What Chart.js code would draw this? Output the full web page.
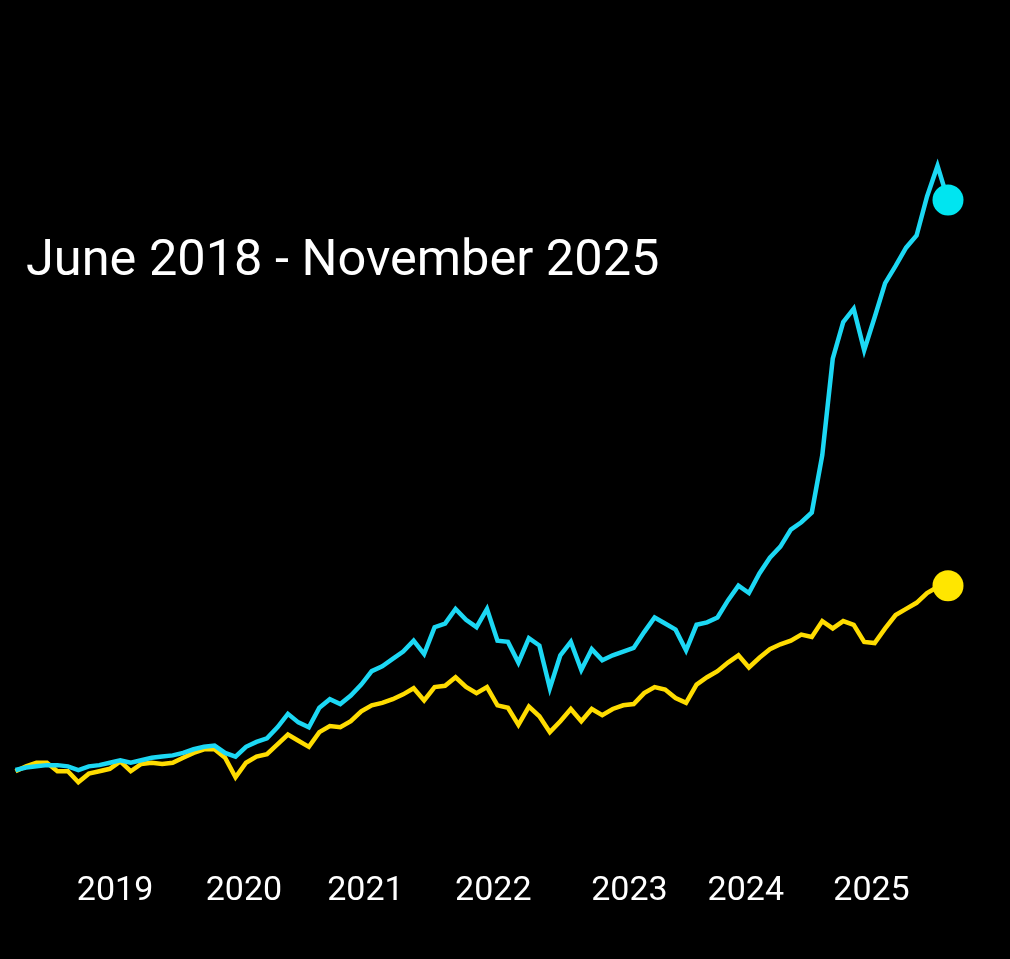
<!DOCTYPE html>
<html>
<head>
<meta charset="utf-8">
<script src="https://cdn.jsdelivr.net/npm/chart.js@4.4.1/dist/chart.umd.min.js"></script>
<style>
  html, body { margin: 0; padding: 0; background: #000; }
  #chart { display: block; }
</style>
</head>
<body>
<canvas id="chart" width="1010" height="959"></canvas>
<script>
// monthly, June 2018 .. November 2025, cumulative return in %
const months = [];
for (let i = 0; i < 90; i++) months.push(i);

const cyanReturn = [
  -1, 1, 2, 3, 3, 2, -1, 2, 3, 5,
  7, 5, 7, 9, 10, 11, 13, 16, 18, 19,
  13, 10, 18, 22, 25, 34, 45, 38, 34, 50,
  57, 53, 60, 69, 80, 84, 90, 96, 105, 94,
  116, 119, 131, 122, 116, 131, 105, 104, 87, 107,
  101, 66, 93, 104, 81, 98, 89, 93, 96, 99,
  112, 124, 119, 114, 97, 118, 120, 124, 138, 150,
  144, 160, 173, 182, 196, 202, 210, 257, 336, 366,
  377, 343, 370, 398, 412, 427, 437, 469, 494, 466
];

const yellowReturn = [
  -2, 2, 5, 5, -2, -2, -11, -4, -2, 0,
  6, -2, 4, 5, 4, 5, 9, 13, 16, 16,
  9, -7, 5, 10, 12, 20, 28, 23, 18, 30,
  35, 34, 39, 47, 52, 54, 57, 61, 66, 56,
  67, 68, 75, 67, 62, 67, 52, 50, 36, 51,
  43, 30, 39, 49, 39, 49, 44, 49, 52, 53,
  62, 67, 65, 58, 54, 69, 75, 80, 87, 93,
  83, 91, 98, 102, 105, 110, 108, 121, 115, 121,
  118, 104, 103, 115, 126, 131, 136, 144, 149, 150
];

const yearLabels = ['2019', '2020', '2021', '2022', '2023', '2024', '2025'];
const yearTickAt = [9.5, 21.8, 33.4, 45.6, 58.6, 69.7, 81.7];

const periodText = 'June 2018 - November 2025';

const lastDot = (ctx) => ctx.dataIndex === months.length - 1 ? 15.5 : 0;

const periodLabel = {
  id: 'periodLabel',
  afterDraw(chart) {
    const c = chart.ctx;
    c.save();
    c.fillStyle = '#ffffff';
    c.font = '50.5px Roboto';
    c.textBaseline = 'alphabetic';
    c.fillText(periodText, 26, 275);
    c.restore();
  }
};

new Chart(document.getElementById('chart'), {
  type: 'line',
  data: {
    labels: months,
    datasets: [
      {
        data: cyanReturn.map((v, i) => ({ x: months[i], y: v })),
        borderColor: '#1cd8f4',
        backgroundColor: '#00e5f0',
        borderWidth: 4.5,
        pointRadius: lastDot,
        pointBorderWidth: 0,
        tension: 0,
        clip: false,
        order: 0
      },
      {
        data: yellowReturn.map((v, i) => ({ x: months[i], y: v })),
        borderColor: '#ffdc00',
        backgroundColor: '#ffe600',
        borderWidth: 4.5,
        pointRadius: lastDot,
        pointBorderWidth: 0,
        tension: 0,
        clip: false,
        order: 1
      }
    ]
  },
  options: {
    responsive: false,
    animation: false,
    layout: { padding: { left: 12, right: 62, top: 100, bottom: 41 } },
    plugins: {
      legend: { display: false },
      tooltip: { enabled: false }
    },
    scales: {
      x: {
        type: 'linear',
        min: 0,
        max: 89,
        grid: { display: false, drawTicks: false },
        border: { display: false },
        afterBuildTicks: (scale) => {
          scale.ticks = yearTickAt.map(v => ({ value: v }));
        },
        ticks: {
          color: '#ffffff',
          font: { family: 'Roboto', size: 34 },
          padding: 6,
          autoSkip: false,
          maxRotation: 0,
          callback: (v, i) => yearLabels[i]
        }
      },
      y: {
        display: false,
        min: -79,
        max: 548
      }
    }
  },
  plugins: [periodLabel]
});
</script>
</body>
</html>
